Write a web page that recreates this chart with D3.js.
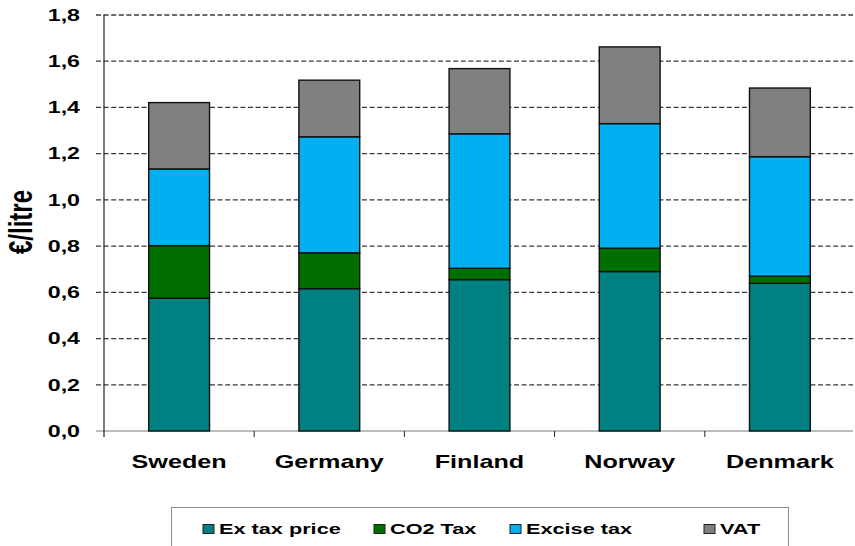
<!DOCTYPE html>
<html>
<head>
<meta charset="utf-8">
<script src="https://cdn.jsdelivr.net/npm/d3@7"></script>
<style>
  body { margin: 0; background: #fff; }
  text { font-family: "Liberation Sans", Arial, sans-serif; font-weight: bold; fill: #000; }
</style>
</head>
<body>
<svg id="chart" width="855" height="546"></svg>
<script>
// values, in euro per litre
const countries = ['Sweden', 'Germany', 'Finland', 'Norway', 'Denmark'];
const exTaxPrice = [0.575, 0.616, 0.655, 0.690, 0.639];
const co2Tax = [0.227, 0.155, 0.049, 0.101, 0.031];
const exciseTax = [0.332, 0.502, 0.582, 0.539, 0.517];
const vat = [0.287, 0.245, 0.282, 0.332, 0.297];
const seriesNames = ['Ex tax price', 'CO2 Tax', 'Excise tax', 'VAT'];
const seriesColors = ['#008080', '#006f00', '#00b0f0', '#808080'];
const yTicks = [0, 0.2, 0.4, 0.6, 0.8, 1.0, 1.2, 1.4, 1.6, 1.8];

const svg = d3.select('#chart');
const plotLeft = 104, plotRight = 855, plotTop = 15, plotBottom = 431;
const stretch = 1.45; // the original picture is squeezed wide

const rows = countries.map((c, i) => ({
    country: c,
    'Ex tax price': exTaxPrice[i],
    'CO2 Tax': co2Tax[i],
    'Excise tax': exciseTax[i],
    'VAT': vat[i]
}));
const stacked = d3.stack().keys(seriesNames)(rows);

const x = d3.scaleBand()
    .domain(countries)
    .range([plotLeft, plotRight])
    .paddingInner(0.595)
    .paddingOuter(0.2975);

const y = d3.scaleLinear()
    .domain([0, 1.8])
    .range([plotBottom, plotTop]);

const color = d3.scaleOrdinal().domain(seriesNames).range(seriesColors);
const fmt = d3.formatLocale({decimal: ',', thousands: '.', grouping: [3], currency: ['', '']}).format('.1f');

// dashed gridlines
svg.append('g')
    .selectAll('line')
    .data(yTicks.filter(d => d > 0))
    .enter().append('line')
        .attr('x1', plotLeft - 8)
        .attr('x2', 853)
        .attr('y1', d => y(d))
        .attr('y2', d => y(d))
        .attr('stroke', '#3a3a3a')
        .attr('stroke-width', 1.3)
        .attr('stroke-dasharray', '5,2.6');

// x axis baseline (grey) and its tick marks at the band edges
svg.append('line')
    .attr('x1', plotLeft - 8).attr('x2', 853)
    .attr('y1', y(0)).attr('y2', y(0))
    .attr('stroke', '#a6a6a6').attr('stroke-width', 1.3);

const edges = d3.range(1, countries.length).map(i => x.range()[0] + i * x.step());
svg.append('g')
    .selectAll('line')
    .data(edges)
    .enter().append('line')
        .attr('x1', d => d).attr('x2', d => d)
        .attr('y1', y(0)).attr('y2', y(0) + 6)
        .attr('stroke', '#222').attr('stroke-width', 1);

// y axis line
svg.append('line')
    .attr('x1', plotLeft).attr('x2', plotLeft)
    .attr('y1', plotTop).attr('y2', y(0) + 6)
    .attr('stroke', '#222').attr('stroke-width', 1.2);

// y tick labels
svg.append('g')
    .selectAll('text')
    .data(yTicks)
    .enter().append('text')
        .attr('transform', d => 'translate(80,' + (y(d) + 5.8) + ') scale(' + stretch + ',1)')
        .attr('text-anchor', 'end')
        .style('font-size', '16px')
        .text(d => fmt(d));

// stacked bars
const layer = svg.append('g')
    .selectAll('g')
    .data(stacked)
    .enter().append('g')
        .attr('fill', d => color(d.key));

layer.selectAll('rect')
    .data(d => d)
    .enter().append('rect')
        .attr('x', d => x(d.data.country))
        .attr('width', x.bandwidth())
        .attr('y', d => y(d[1]))
        .attr('height', d => y(d[0]) - y(d[1]))
        .attr('stroke', '#111')
        .attr('stroke-width', 1.4);

// category labels
svg.append('g')
    .selectAll('text')
    .data(countries)
    .enter().append('text')
        .attr('transform', d => 'translate(' + (x(d) + x.bandwidth() / 2) + ',468) scale(' + 1.4 + ',1)')
        .attr('text-anchor', 'middle')
        .style('font-size', '18px')
        .text(d => d);

// y axis title
svg.append('text')
    .attr('transform', 'translate(32,222) scale(1.35,1) rotate(-90)')
    .attr('text-anchor', 'middle')
    .style('font-size', '24px')
    .text('\u20ac/litre');

// legend
svg.append('rect')
    .attr('x', 171.5).attr('y', 507.5)
    .attr('width', 617).attr('height', 60)
    .attr('fill', '#fff')
    .attr('stroke', '#8c8c8c').attr('stroke-width', 1);

const legendX = [203, 374, 510, 704];
const legend = svg.append('g')
    .selectAll('g')
    .data(seriesNames)
    .enter().append('g')
        .attr('transform', (d, i) => 'translate(' + legendX[i] + ',0)');

legend.append('rect')
    .attr('x', 0).attr('y', 524.5)
    .attr('width', 11).attr('height', 9)
    .attr('fill', d => color(d))
    .attr('stroke', '#222').attr('stroke-width', 1);

legend.append('text')
    .attr('transform', 'translate(16,534) scale(1.4,1)')
    .style('font-size', '15.5px')
    .text(d => d);
</script>
</body>
</html>
